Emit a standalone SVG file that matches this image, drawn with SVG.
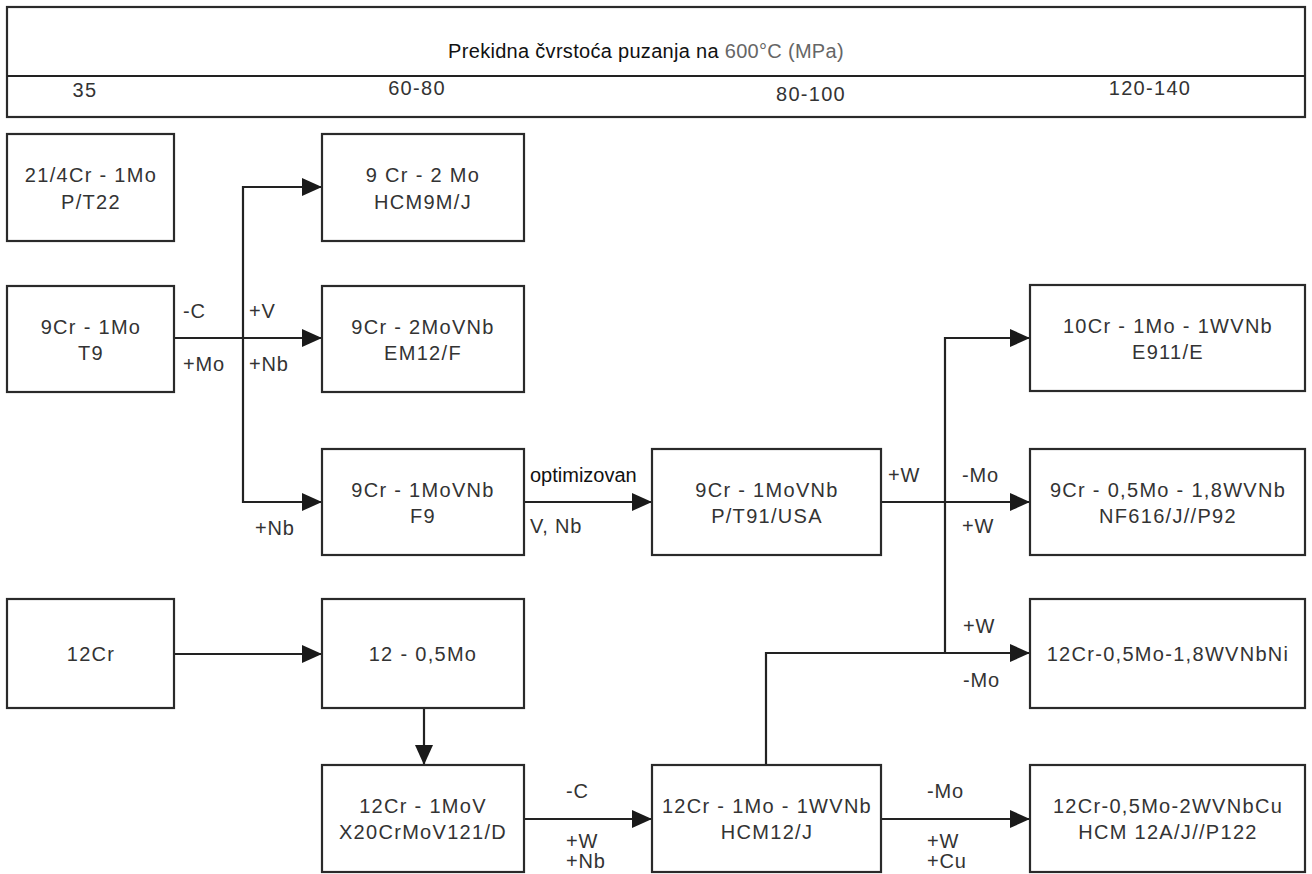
<svg xmlns="http://www.w3.org/2000/svg" width="1312" height="874" viewBox="0 0 1312 874">
<style>
.box{fill:#fff;stroke:#2a2a2a;stroke-width:2.2}
.t{font-family:"Liberation Sans",Arial,sans-serif;font-size:20px;fill:#333;letter-spacing:1.3px}
.c{text-anchor:middle}
.lbl{font-family:"Liberation Sans",Arial,sans-serif;font-size:20px;fill:#333;letter-spacing:0.8px}
.ln{fill:none;stroke:#222;stroke-width:2.2}
</style>
<defs>
<marker id="ah" viewBox="0 0 20 18" refX="20" refY="9" markerWidth="20" markerHeight="18" markerUnits="userSpaceOnUse" orient="auto">
<path d="M0,0 L20,9 L0,18 Z" fill="#1a1a1a"/>
</marker>
</defs>
<rect width="1312" height="874" fill="#fff"/>
<g id="header">
<rect class="box" x="7" y="7" width="1298" height="110"/>
<line class="ln" x1="7" y1="76" x2="1305" y2="76"/>
<text x="646" y="58" text-anchor="middle" font-family="Liberation Sans, Arial, sans-serif" font-size="20" letter-spacing="0.3" fill="#111">Prekidna čvrstoća puzanja na <tspan fill="#666">600°C (MPa)</tspan></text>
<text class="t c" x="85" y="97">35</text>
<text class="t c" x="417" y="95">60-80</text>
<text class="t c" x="811" y="101">80-100</text>
<text class="t c" x="1150" y="95">120-140</text>
</g>
<g id="connectors">
<line class="ln" x1="174" y1="338" x2="322" y2="338" marker-end="url(#ah)"/>
<polyline class="ln" points="322,187 243,187 243,502 322,502" marker-end="url(#ah)"/>
<line class="ln" x1="243" y1="187" x2="322" y2="187" marker-end="url(#ah)"/>
<line class="ln" x1="524" y1="502" x2="652" y2="502" marker-end="url(#ah)"/>
<line class="ln" x1="881" y1="502" x2="1030" y2="502" marker-end="url(#ah)"/>
<polyline class="ln" points="945,653 945,338 1030,338" marker-end="url(#ah)"/>
<polyline class="ln" points="766,765 766,653 1030,653" marker-end="url(#ah)"/>
<line class="ln" x1="174" y1="654" x2="322" y2="654" marker-end="url(#ah)"/>
<line class="ln" x1="424" y1="708" x2="424" y2="765" marker-end="url(#ah)"/>
<line class="ln" x1="524" y1="819" x2="652" y2="819" marker-end="url(#ah)"/>
<line class="ln" x1="881" y1="819" x2="1030" y2="819" marker-end="url(#ah)"/>
<text class="lbl" x="183" y="318">-C</text>
<text class="lbl" x="183" y="371">+Mo</text>
<text class="lbl" x="249" y="318">+V</text>
<text class="lbl" x="249" y="371">+Nb</text>
<text class="lbl" x="255" y="535">+Nb</text>
<text x="530" y="482" font-family="Liberation Sans, Arial, sans-serif" font-size="20" fill="#111">optimizovan</text>
<text class="lbl" x="530" y="533">V, Nb</text>
<text class="lbl" x="888" y="482">+W</text>
<text class="lbl" x="962" y="482">-Mo</text>
<text class="lbl" x="962" y="533">+W</text>
<text class="lbl" x="963" y="633">+W</text>
<text class="lbl" x="963" y="687">-Mo</text>
<text class="lbl" x="566" y="798">-C</text>
<text class="lbl" x="566" y="848">+W</text>
<text class="lbl" x="566" y="868">+Nb</text>
<text class="lbl" x="927" y="798">-Mo</text>
<text class="lbl" x="927" y="848">+W</text>
<text class="lbl" x="927" y="868">+Cu</text>
</g>
<g id="n_p22">
<rect class="box" x="7" y="134" width="167" height="107"/>
<text class="t c" x="91" y="182">21/4Cr - 1Mo</text>
<text class="t c" x="91" y="209">P/T22</text>
</g>
<g id="n_hcm9m">
<rect class="box" x="322" y="134" width="202" height="107"/>
<text class="t c" x="423" y="182">9 Cr - 2 Mo</text>
<text class="t c" x="423" y="209">HCM9M/J</text>
</g>
<g id="n_t9">
<rect class="box" x="7" y="286" width="167" height="106"/>
<text class="t c" x="91" y="334">9Cr - 1Mo</text>
<text class="t c" x="91" y="360">T9</text>
</g>
<g id="n_em12">
<rect class="box" x="322" y="286" width="202" height="106"/>
<text class="t c" x="423" y="334">9Cr - 2MoVNb</text>
<text class="t c" x="423" y="360">EM12/F</text>
</g>
<g id="n_e911">
<rect class="box" x="1030" y="285" width="275" height="106"/>
<text class="t c" x="1168" y="333">10Cr - 1Mo - 1WVNb</text>
<text class="t c" x="1168" y="359">E911/E</text>
</g>
<g id="n_f9">
<rect class="box" x="322" y="449" width="202" height="106"/>
<text class="t c" x="423" y="497">9Cr - 1MoVNb</text>
<text class="t c" x="423" y="523">F9</text>
</g>
<g id="n_t91">
<rect class="box" x="652" y="449" width="229" height="106"/>
<text class="t c" x="767" y="497">9Cr - 1MoVNb</text>
<text class="t c" x="767" y="523">P/T91/USA</text>
</g>
<g id="n_p92">
<rect class="box" x="1030" y="449" width="275" height="106"/>
<text class="t c" x="1168" y="497">9Cr - 0,5Mo - 1,8WVNb</text>
<text class="t c" x="1168" y="523">NF616/J//P92</text>
</g>
<g id="n_12cr">
<rect class="box" x="7" y="599" width="167" height="109"/>
<text class="t c" x="91" y="661">12Cr</text>
</g>
<g id="n_12mo">
<rect class="box" x="322" y="599" width="202" height="109"/>
<text class="t c" x="423" y="661">12 - 0,5Mo</text>
</g>
<g id="n_12ni">
<rect class="box" x="1030" y="599" width="275" height="109"/>
<text class="t c" x="1168" y="661">12Cr-0,5Mo-1,8WVNbNi</text>
</g>
<g id="n_x20">
<rect class="box" x="322" y="765" width="202" height="107"/>
<text class="t c" x="423" y="813">12Cr - 1MoV</text>
<text class="t c" x="423" y="839">X20CrMoV121/D</text>
</g>
<g id="n_hcm12">
<rect class="box" x="652" y="765" width="229" height="107"/>
<text class="t c" x="767" y="813">12Cr - 1Mo - 1WVNb</text>
<text class="t c" x="767" y="839">HCM12/J</text>
</g>
<g id="n_p122">
<rect class="box" x="1030" y="765" width="275" height="107"/>
<text class="t c" x="1168" y="813">12Cr-0,5Mo-2WVNbCu</text>
<text class="t c" x="1168" y="839">HCM 12A/J//P122</text>
</g>
</svg>
